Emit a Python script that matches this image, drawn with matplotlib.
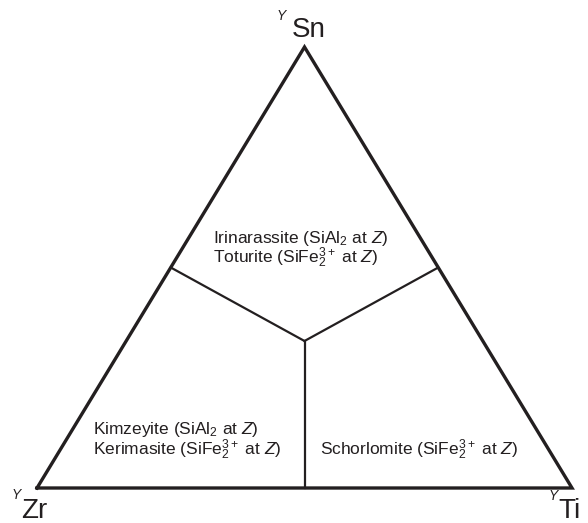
import matplotlib
matplotlib.use("Agg")
import matplotlib.pyplot as plt
import numpy as np

plt.rcParams['font.family'] = ['Liberation Sans', 'DejaVu Sans']
plt.rcParams['mathtext.fontset'] = 'custom'
plt.rcParams['mathtext.rm'] = 'Liberation Sans'
plt.rcParams['mathtext.it'] = 'Liberation Sans:italic'
plt.rcParams['mathtext.bf'] = 'Liberation Sans:bold'

# Apex labels (Y-site cations)
apex_labels = ["Zr", "Ti", "Sn"]
# Ternary compositions (Zr, Ti, Sn) of outer triangle
outer = [(1, 0, 0), (0, 1, 0), (0, 0, 1), (1, 0, 0)]
# Field boundaries: from centroid to side midpoints
center = (1/3, 1/3, 1/3)
boundary_ends = [(0.5, 0, 0.5), (0, 0.5, 0.5), (0.5, 0.5, 0)]

field_lines = [
    ("Irinarassite (SiAl$_2$ at $Z$)", (0.329, 0.556)),
    ("Toturite (SiFe$_2^{3+}$ at $Z$)", (0.329, 0.510)),
    ("Kimzeyite (SiAl$_2$ at $Z$)", (0.105, 0.122)),
    ("Kerimasite (SiFe$_2^{3+}$ at $Z$)", (0.105, 0.075)),
    ("Schorlomite (SiFe$_2^{3+}$ at $Z$)", (0.529, 0.075)),
]

def to_xy(c):
    zr, ti, sn = c
    s = zr + ti + sn
    x = (ti + 0.5 * sn) / s
    y = sn / s
    return x, y

W, H = 588, 523
fig = plt.figure(figsize=(W / 100, H / 100), dpi=100)
left, right, top, bottom = 37, 572, 47, 488
ax = fig.add_axes([left / W, (H - bottom) / H, (right - left) / W, (bottom - top) / H])
ax.set_xlim(0, 1)
ax.set_ylim(0, 1)
ax.axis('off')

col = '#231f20'
ox, oy = zip(*[to_xy(c) for c in outer])
ax.plot(ox, oy, color=col, lw=2.4, solid_joinstyle='miter', clip_on=False)
cx, cy = to_xy(center)
for e in boundary_ends:
    ex, ey = to_xy(e)
    ax.plot([cx, ex], [cy, ey], color=col, lw=1.6, clip_on=False)

for txt, (x, y) in field_lines:
    ax.text(x, y, txt, fontsize=12.5, color=col, ha='left', va='baseline')

# apex labels
apex_pos = {"Sn": ((0.477, 1.023), (0.448, 1.062)),
            "Zr": ((-0.030, -0.068), (-0.048, -0.025)),
            "Ti": ((0.975, -0.068), (0.956, -0.028))}
for lab in apex_labels:
    (lx, ly), (yx, yy) = apex_pos[lab]
    ax.text(lx, ly, lab, fontsize=20, color=col, ha='left', va='baseline', clip_on=False)
    ax.text(yx, yy, "Y", fontsize=10, style='italic', color=col, ha='left', va='baseline', clip_on=False)

fig.savefig("out.png", dpi=100)
